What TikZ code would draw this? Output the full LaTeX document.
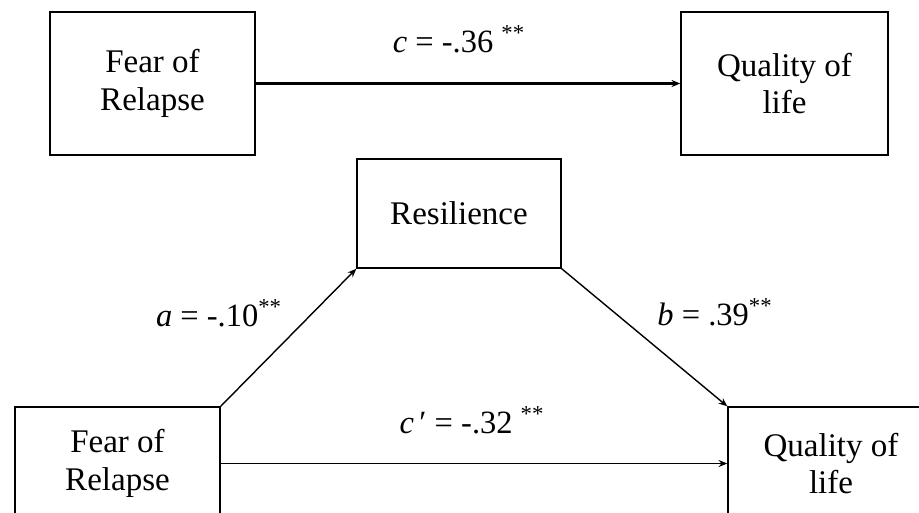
\documentclass[tikz,border=0pt]{standalone}
\usepackage{fontspec}
\setmainfont{Liberation Serif}
\usetikzlibrary{arrows.meta}

\begin{document}
\begin{tikzpicture}[x=0.02cm,y=-0.02cm,>={Stealth[length=5pt,width=4pt]},
    var/.style={draw,line width=0.8pt,align=center,inner sep=0pt,
      font=\fontsize{18.8}{21.6}\selectfont},
    coef/.style={inner sep=0pt,anchor=base,font=\fontsize{18.5}{21}\selectfont}]
  \clip (0,0) rectangle (919,512);
  % total effect
  \node[var,minimum width=4.1cm,minimum height=2.86cm] (fear1) at (152.5,83.5) {Fear of\\Relapse};
  \node[var,minimum width=4.14cm,minimum height=2.86cm] (qol1) at (784.5,83.5) {Quality of\\life};
  \draw[->,line width=1.2pt] (fear1) -- (qol1);
  \node[coef] (c) at (459,52) {\textit{c} = -.36 \textsuperscript{**}};
  % mediation model
  \node[var,minimum width=4.08cm,minimum height=2.18cm] (res) at (459,213.5) {Resilience};
  \node[var,minimum width=4.1cm,minimum height=2.26cm] (fear2) at (117.5,463.5) {Fear of\\Relapse};
  \node[var,minimum width=4.12cm,minimum height=2.26cm] (qol2) at (831,463.5) {Quality of\\life};
  \draw[->,line width=0.8pt] (fear2.north east) -- (res.south west);
  \draw[->,line width=0.8pt] (res.south east) -- (qol2.north west);
  \draw[->,line width=0.8pt] (fear2) -- (qol2);
  \node[coef] (a) at (219,326) {\textit{a} = -.10\textsuperscript{**}};
  \node[coef] (b) at (715,325) {\textit{b} = .39\textsuperscript{**}};
  \node[coef] (cp) at (472,433) {\textit{c}\,′ = -.32 \textsuperscript{**}};
\end{tikzpicture}
\end{document}
